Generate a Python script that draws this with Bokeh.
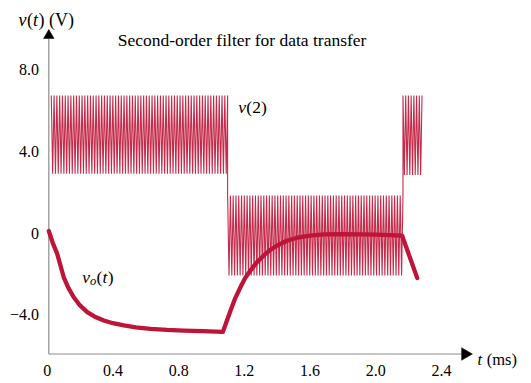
import numpy as np
from bokeh.plotting import figure
from bokeh.models import Range1d, Label
from bokeh.core.properties import value
from bokeh.embed import file_html
from bokeh.resources import INLINE

# ---------------- data ----------------
# filter output v_o(t)  (t in ms, volts)
vo_t = [0.0, 0.025, 0.051, 0.091, 0.12, 0.152, 0.19, 0.234, 0.28, 0.335, 0.39,
        0.457, 0.53, 0.619, 0.72, 0.822, 0.94, 1.06,
        1.08, 1.107, 1.135, 1.167, 1.195, 1.228, 1.265, 1.309, 1.35, 1.391,
        1.45, 1.513, 1.59, 1.675, 1.78, 1.898, 2.0, 2.152, 2.244]
vo_v = [0.05, -0.55, -1.07, -2.22, -2.75, -3.20, -3.60, -3.93, -4.15, -4.34, -4.47,
        -4.58, -4.67, -4.75, -4.80, -4.83, -4.86, -4.90,
        -4.45, -3.85, -3.25, -2.71, -2.27, -1.89, -1.50, -1.15, -0.87, -0.66,
        -0.43, -0.28, -0.18, -0.12, -0.11, -0.12, -0.13, -0.18, -2.26]

# input v(2): carrier bursts, one entry per burst (start, end, upper and lower peak)
v2_start = [0.015, 1.089, 2.157]
v2_end = [1.089, 2.157, 2.273]
v2_top = [6.69, 1.79, 6.69]
v2_bottom = [2.85, -2.13, 2.79]
v2_period = 0.017  # ms, carrier period read from the stripe spacing

x_ticks = [0.0, 0.4, 0.8, 1.2, 1.6, 2.0, 2.4]
x_tick_labels = ["0", "0.4", "0.8", "1.2", "1.6", "2.0", "2.4"]
y_ticks = [-4.0, 0.0, 4.0, 8.0]
y_tick_labels = ["\u22124.0", "0", "4.0", "8.0"]

title_text = "Second-order filter for data transfer"

# axis extents (data units)
X_AXIS_END = 2.513
Y_AXIS_LOW = -5.98
Y_AXIS_END = 9.485

# ---------------- carrier trace (peaks alternate between the read levels) ----------------
v2_t, v2_v = [], []
for s, e, hi, lo in zip(v2_start, v2_end, v2_top, v2_bottom):
    n = int(round((e - s) / (v2_period / 2)))
    tt = np.linspace(s, e, n + 1)
    for i, t in enumerate(tt):
        v2_t.append(t)
        v2_v.append(hi if i % 2 == 0 else lo)

RED = "#BE1437"
AXIS = "#8c8c8c"
FONT = "Liberation Serif"

p = figure(width=531, height=383, output_backend="svg", toolbar_location=None,
           x_range=Range1d(-0.2942, 2.9397), y_range=Range1d(-7.426, 11.348),
           x_axis_location=None, y_axis_location=None,
           min_border_left=0, min_border_right=0, min_border_top=0,
           min_border_bottom=0)
p.xgrid.visible = False
p.ygrid.visible = False
p.outline_line_color = None
p.background_fill_color = "white"
p.border_fill_color = "white"

# axes lines
p.segment(x0=[0, 0], y0=[Y_AXIS_LOW, Y_AXIS_LOW], x1=[0, X_AXIS_END],
          y1=[Y_AXIS_END, Y_AXIS_LOW], line_color=AXIS, line_width=1.2)
# arrow heads
p.scatter(x=[0], y=[9.634], marker="triangle", size=10.5, fill_color="black",
          line_color="black", line_width=0.5)
p.scatter(x=[2.536], y=[Y_AXIS_LOW], marker="triangle", size=12.5, angle=-np.pi / 2,
          fill_color="black", line_color="black", line_width=0.5)

# tick labels
p.text(x=x_ticks, y=[-6.79] * len(x_ticks), text=x_tick_labels, x_offset=-1.5,
       text_font=value(FONT), text_font_size="16px", text_align="center",
       text_baseline="middle", text_color="black")
p.text(x=[-0.06] * len(y_ticks), y=y_ticks, text=y_tick_labels, y_offset=1,
       text_font=value(FONT), text_font_size="16px", text_align="right",
       text_baseline="middle", text_color="black")

# traces
p.line(v2_t, v2_v, line_color=RED, line_width=1.1, line_alpha=0.9)
p.line(vo_t, vo_v, line_color=RED, line_width=4.3, line_join="round", line_cap="round")


def add_runs(x, y, runs, size):
    off = 0.0
    for text, italic, scale, dy, width_em in runs:
        fs = size * scale
        p.add_layout(Label(x=x, y=y, x_offset=off, y_offset=dy, text=text,
                           text_font=FONT,
                           text_font_style="italic" if italic else "normal",
                           text_font_size=f"{fs:.1f}px", text_baseline="alphabetic",
                           text_align="left", text_color="black"))
        off += width_em * fs


p.add_layout(Label(x=1.177, y=9.39, text=title_text, text_font=FONT,
                   text_font_size="17.5px", text_align="center",
                   text_baseline="middle", text_color="black"))

add_runs(-0.185, 10.37, [("v", True, 1, 0, 0.47), ("(", False, 1, 0, 0.333),
                         ("t", True, 1, 0, 0.31), (") (V)", False, 1, 0, 0)], 18)
add_runs(1.153, 6.15, [("v", True, 1, 0, 0.47), ("(2)", False, 1, 0, 0)], 17.5)
add_runs(0.203, -2.23, [("v", True, 1, 0, 0.45), ("o", True, 0.72, -4, 0.52),
                        ("(", False, 1, 0, 0.333), ("t", True, 1, 0, 0.31),
                        (")", False, 1, 0, 0)], 17.5)
add_runs(2.611, -6.25, [("t", True, 1, 0, 0.56), ("(ms)", False, 1, 0, 0)], 16.5)

open("out.html", "w").write(file_html(p, INLINE))
